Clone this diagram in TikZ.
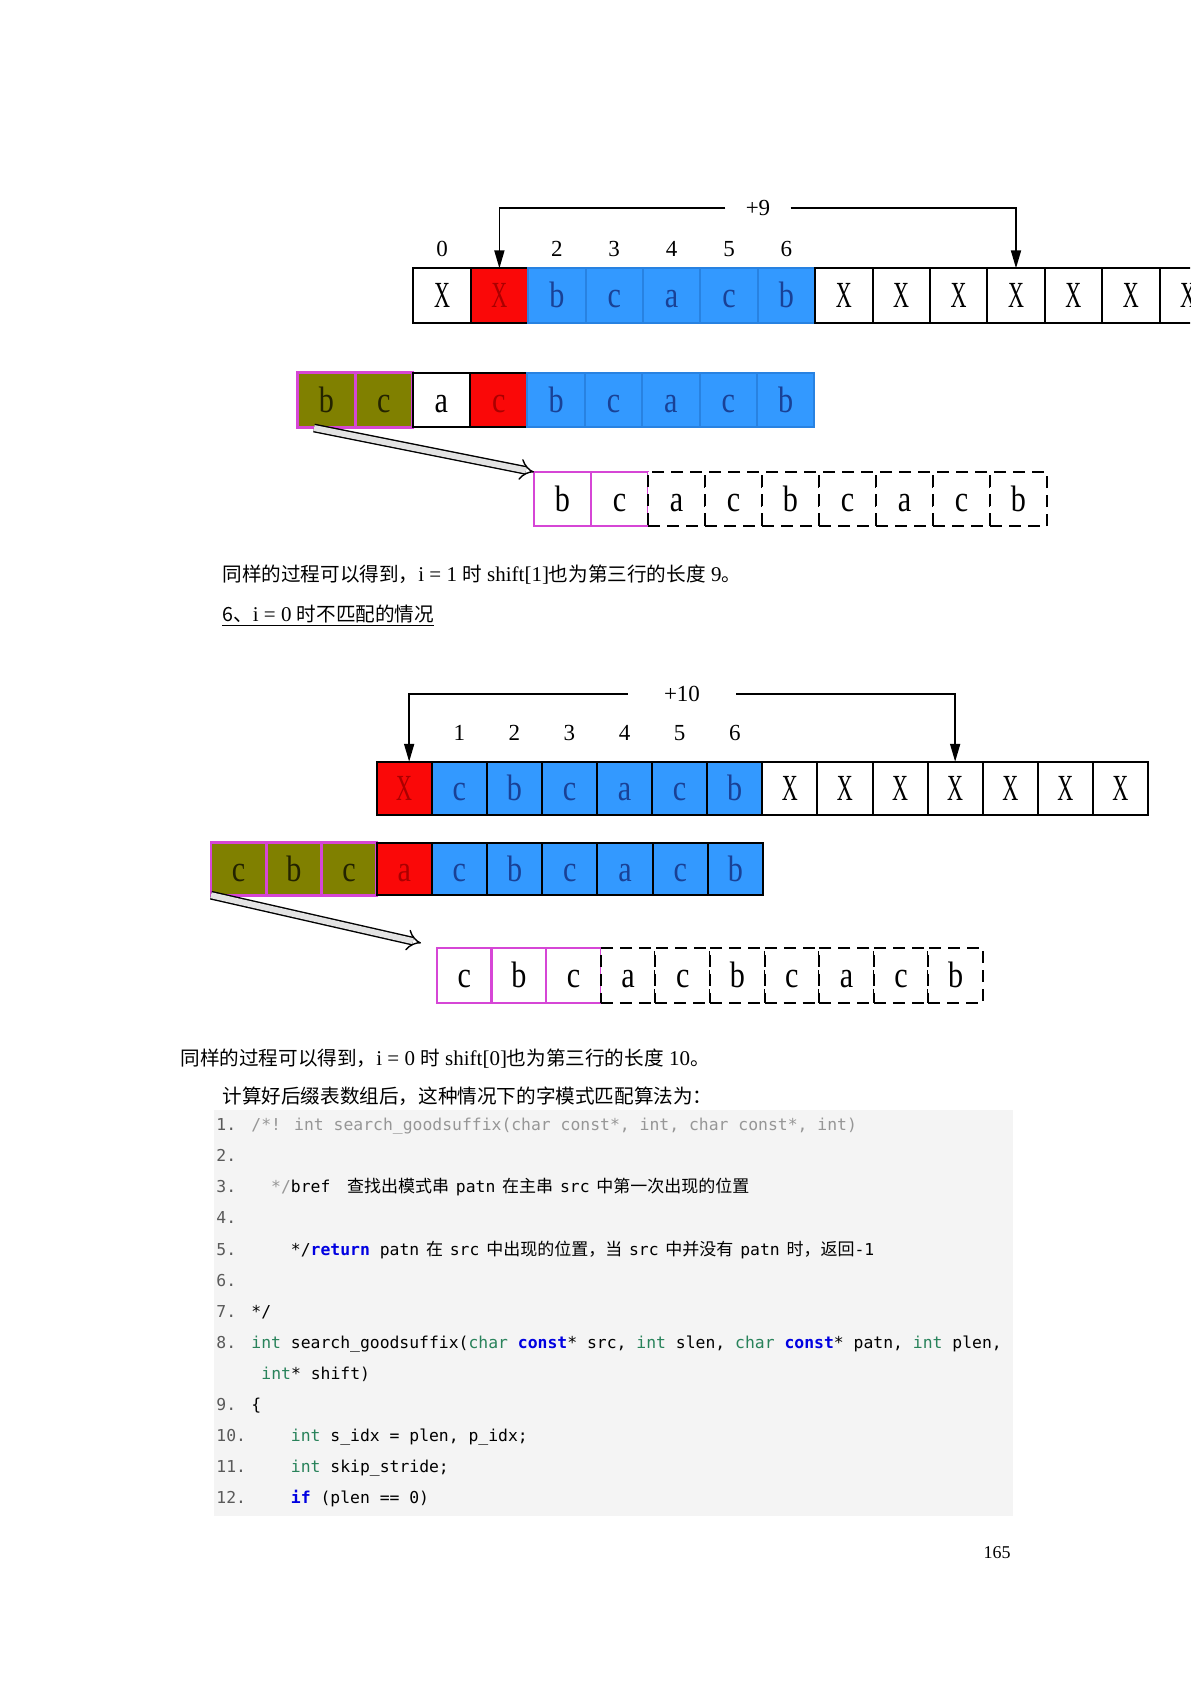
\documentclass[tikz,border=0pt]{standalone}
\usepackage{fontspec}
\setmainfont{Liberation Serif}
\newfontfamily\cjk{Noto Sans CJK SC}
\newfontfamily\cellfont[FakeStretch=0.82]{Liberation Serif}
\newfontfamily\xfont[FakeStretch=0.6]{Liberation Serif}
\newfontfamily\codefont{DejaVu Sans Mono}
\usetikzlibrary{arrows.meta}
\definecolor{blueF}{RGB}{51,153,255}
\definecolor{blueB}{RGB}{40,130,225}
\definecolor{blueT}{RGB}{25,65,150}
\definecolor{redF}{RGB}{250,8,8}
\definecolor{redT}{RGB}{170,0,0}
\definecolor{oliveF}{RGB}{128,128,0}
\definecolor{oliveT}{RGB}{35,35,0}
\definecolor{magB}{RGB}{214,70,214}
\definecolor{codeBg}{RGB}{244,244,244}
\definecolor{kwGreen}{RGB}{40,130,90}
\definecolor{kwBlue}{RGB}{0,0,225}
\definecolor{cmGray}{RGB}{150,150,150}
\definecolor{lnGray}{RGB}{90,90,90}
\newcommand{\cellX}{{\xfont X}}
\newcommand{\kwg}[1]{\textcolor{kwGreen}{#1}}
\newcommand{\kwb}[1]{\textcolor{kwBlue}{\bfseries #1}}
\newcommand{\cz}[1]{{\cjk\fontsize{8.5}{10}\selectfont #1}}
\newcommand{\cjsp}{\hspace{3.4pt}}
\newcommand{\bz}[1]{{\cjk\fontsize{9.8}{11}\selectfont #1}}
\begin{document}
\begin{tikzpicture}[x=0.5pt,y=-0.5pt,
  cellbase/.style={inner sep=0pt, outer sep=0pt, text height=12.2pt, text depth=0pt,
    font=\cellfont\fontsize{18.4}{19}\selectfont, line width=1pt},
  wcell/.style={cellbase, draw=black, fill=white, text=black},
  rcell/.style={cellbase, draw=black, fill=redF, text=redT},
  bcellA/.style={cellbase, draw=blueB, fill=blueF, text=blueT},
  bcellB/.style={cellbase, draw=black, fill=blueF, text=blueT},
  ocell/.style={cellbase, draw=magB, fill=oliveF, text=oliveT, line width=1.4pt},
  mcell/.style={cellbase, draw=magB, fill=white, text=black, line width=1.2pt},
  dcell/.style={cellbase, draw=black, fill=white, text=black, dash pattern=on 6pt off 3.5pt},
  dimA/.style={minimum width=28.7pt, minimum height=27.2pt},
  dimA3/.style={minimum width=28.5pt, minimum height=27pt},
  dimB1/.style={minimum width=27.55pt, minimum height=26.75pt},
  dimB2/.style={minimum width=27.6pt, minimum height=26.2pt},
  dimB3/.style={minimum width=27.3pt, minimum height=27.5pt},
  idx/.style={font=\fontsize{11.5}{12}\selectfont, inner sep=0pt},
  plab/.style={font=\fontsize{11.5}{12}\selectfont, inner ysep=0pt},
  arr/.style={line width=0.9pt, -{Triangle[length=9pt,width=5pt]}},
  dbl/.style={line width=0.7pt, double=gray!22, double distance=3pt, -{Implies}},
  body/.style={anchor=base west, inner sep=0pt, font=\fontsize{10.5}{12}\selectfont},
  cln/.style={anchor=base west, inner sep=0pt, text=lnGray, font=\codefont\fontsize{8.2}{10}\selectfont},
  ctx/.style={anchor=base west, inner sep=0pt, text=black, font=\codefont\fontsize{8.2}{10}\selectfont}
]
\useasboundingbox (0,0) rectangle (1190,1683);
\clip (0,0) rectangle (1190,1683);
\fill[white] (0,0) rectangle (1190,1683);

% ---------------- first diagram ----------------
\foreach \t/\s [count=\i from 0] in {\cellX/wcell,\cellX/rcell,b/bcellA,c/bcellA,a/bcellA,c/bcellA,b/bcellA,
   \cellX/wcell,\cellX/wcell,\cellX/wcell,\cellX/wcell,\cellX/wcell,\cellX/wcell,\cellX/wcell}
  \node[\s, dimA] (A\i) at ({413.3+(\i+0.5)*57.4},295.5) {\t};
\foreach \t [count=\i from 0] in {0,,2,3,4,5,6}
  \node[idx] (iA\i) at ({413.3+(\i+0.5)*57.4},249) {\t};
\node[plab, inner xsep=10pt] (p9) at (758,207.7) {+9};
\draw[arr] (p9.west) -| (A1.north);
\draw[arr] (p9.east) -| (A10.north);

\foreach \t/\s [count=\i from 0] in {b/ocell,c/ocell,a/wcell,c/rcell,b/bcellA,c/bcellA,a/bcellA,c/bcellA,b/bcellA}
  \node[\s, dimA] (B\i) at ({297.8+(\i+0.5)*57.4},400) {\t};
\foreach \t/\s [count=\i from 0] in {b/mcell,c/mcell,a/dcell,c/dcell,b/dcell,c/dcell,a/dcell,c/dcell,b/dcell}
  \node[\s, dimA3] (C\i) at ({534+(\i+0.5)*57},499) {\t};
\coordinate (s1) at (314,428);
\draw[dbl] (s1) -- (C0.north west);

\node[body] (t1) at (222,581) {\bz{同样的过程可以得到，}i = 1 \bz{时} shift[1]\bz{也为第三行的长度} 9\bz{。}};
\node[body] (t2) at (222,621) {\underline{\bz{6、}i = 0 \bz{时不匹配的情况}}};

% ---------------- second diagram ----------------
\foreach \t/\s [count=\i from 0] in {\cellX/rcell,c/bcellB,b/bcellB,c/bcellB,a/bcellB,c/bcellB,b/bcellB,
   \cellX/wcell,\cellX/wcell,\cellX/wcell,\cellX/wcell,\cellX/wcell,\cellX/wcell,\cellX/wcell}
  \node[\s, dimB1] (D\i) at ({376.6+(\i+0.5)*55.1},788.5) {\t};
\foreach \t [count=\i from 1] in {1,2,3,4,5,6}
  \node[idx] (iD\i) at ({376.6+(\i+0.5)*55.1},733) {\t};
\node[plab, inner xsep=18pt] (p10) at (682,694) {+10};
\draw[arr] (p10.west) -| ([xshift=2.5pt]D0.north);
\draw[arr] (p10.east) -| (D10.north);

\foreach \t/\s [count=\i from 0] in {c/ocell,b/ocell,c/ocell,a/rcell,c/bcellB,b/bcellB,c/bcellB,a/bcellB,c/bcellB,b/bcellB}
  \node[\s, dimB2] (E\i) at ({211+(\i+0.5)*55.2},869) {\t};
\foreach \t/\s [count=\i from 0] in {c/mcell,b/mcell,c/mcell,a/dcell,c/dcell,b/dcell,c/dcell,a/dcell,c/dcell,b/dcell}
  \node[\s, dimB3] (F\i) at ({437+(\i+0.5)*54.6},975.5) {\t};
\coordinate (e2) at (421,943);
\draw[dbl] (E0.south west) -- (e2);

\node[body] (t3) at (180,1065) {\bz{同样的过程可以得到，}i = 0 \bz{时} shift[0]\bz{也为第三行的长度} 10\bz{。}};
\node[body] (t4) at (222,1103) {\bz{计算好后缀表数组后，这种情况下的字模式匹配算法为：}};

% ---------------- code ----------------
\fill[codeBg] (213.5,1110) rectangle (1013,1516);
\foreach \n/\y in {1./1130.6,2./1161.7,3./1192.8,4./1223.9,5./1255,6./1286.1,7./1317.2,8./1348.3,9./1410.5,10./1441.6,11./1472.7,12./1503.8}
  \node[cln] (ln\n) at (216,\y) {\n};
\node[ctx, text=cmGray] (c1) at (251,1130.6) {/*! int search\_goodsuffix(char const*, int, char const*, int)};
\node[ctx] (c3) at (270.8,1192.8) {\textcolor{cmGray}{*/}bref \cjsp\cz{查找出模式串}\cjsp patn\cjsp\cz{在主串}\cjsp src\cjsp\cz{中第一次出现的位置}};
\node[ctx] (c5) at (290.5,1255) {*/\kwb{return} patn\cjsp\cz{在}\cjsp src\cjsp\cz{中出现的位置，当}\cjsp src\cjsp\cz{中并没有}\cjsp patn\cjsp\cz{时，返回}-1};
\node[ctx] (c7) at (251,1317.2) {*/};
\node[ctx] (c8) at (251,1348.3) {\kwg{int} search\_goodsuffix(\kwg{char} \kwb{const}* src, \kwg{int} slen, \kwg{char} \kwb{const}* patn, \kwg{int} plen,};
\node[ctx] (c8b) at (261,1379.4) {\kwg{int}* shift)};
\node[ctx] (c9) at (251,1410.5) {\{};
\node[ctx] (c10) at (290.5,1441.6) {\kwg{int} s\_idx = plen, p\_idx;};
\node[ctx] (c11) at (290.5,1472.7) {\kwg{int} skip\_stride;};
\node[ctx] (c12) at (290.5,1503.8) {\kwb{if} (plen == 0)};

\node[font=\fontsize{9}{10}\selectfont, anchor=base, inner sep=0pt] (pg) at (997,1558) {165};
\end{tikzpicture}
\end{document}
